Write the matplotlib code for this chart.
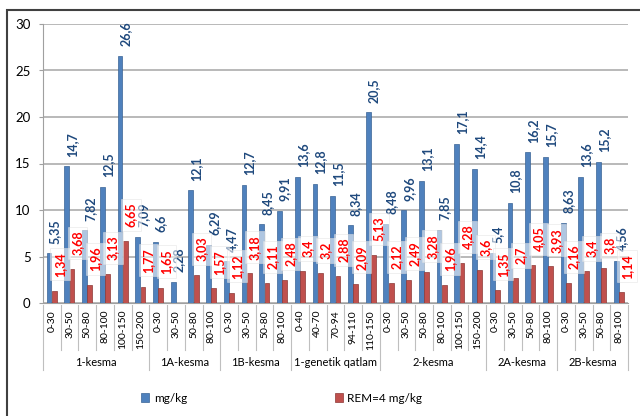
import numpy as np
import matplotlib
matplotlib.use("Agg")
import matplotlib.pyplot as plt
from matplotlib.patches import Rectangle
import matplotlib.transforms as mtransforms

plt.rcParams["font.family"] = ["Lato", "DejaVu Sans"]

# Ma'lumotlar
guruhlar = ["1-kesma", "1A-kesma", "1B-kesma", "1-genetik qatlam", "2-kesma", "2A-kesma", "2B-kesma"]
chuqurlik = [
    ["0-30", "30-50", "50-80", "80-100", "100-150", "150-200"],
    ["0-30", "30-50", "50-80", "80-100"],
    ["0-30", "30-50", "50-80", "80-100"],
    ["0-40", "40-70", "70-94", "94-110", "110-150"],
    ["0-30", "30-50", "50-80", "80-100", "100-150", "150-200"],
    ["0-30", "30-50", "50-80", "80-100"],
    ["0-30", "30-50", "50-80", "80-100"],
]
mg_kg = [5.35, 14.7, 7.82, 12.5, 26.6, 7.09,
         6.6, 2.28, 12.1, 6.29,
         4.47, 12.7, 8.45, 9.91,
         13.6, 12.8, 11.5, 8.34, 20.5,
         8.48, 9.96, 13.1, 7.85, 17.1, 14.4,
         5.4, 10.8, 16.2, 15.7,
         8.63, 13.6, 15.2, 4.56]
rem = [1.34, 3.68, 1.96, 3.13, 6.65, 1.77,
       1.65, np.nan, 3.03, 1.57,
       1.12, 3.18, 2.11, 2.48,
       3.4, 3.2, 2.88, 2.09, 5.13,
       2.12, 2.49, 3.28, 1.96, 4.28, 3.6,
       1.35, 2.7, 4.05, 3.93,
       2.16, 3.4, 3.8, 1.14]

teglar = [c for g in chuqurlik for c in g]
x = np.arange(len(teglar))

def fmt(v):
    return f"{v:g}".replace(".", ",")

fig = plt.figure(figsize=(6.4, 4.16), dpi=100)
ax = fig.add_axes([43 / 640, 113 / 416, 585 / 640, 279 / 416])

w = 0.27
ax.bar(x - 0.16, mg_kg, w, color="#4F81BD", edgecolor="#3A6496", linewidth=0.5, zorder=3, label="mg/kg")
ax.bar(x + 0.14, rem, w, color="#C0504D", edgecolor="#8C3836", linewidth=0.5, zorder=3, label="REM=4 mg/kg")

for xi, v in zip(x, mg_kg):
    ax.annotate(fmt(v), (xi - 0.16, v), xytext=(4, 7), textcoords="offset points",
                rotation=90, ha="center", va="bottom", fontsize=9, fontweight="bold",
                color="#1F497D", zorder=5)
for xi, v in zip(x, rem):
    if np.isnan(v):
        continue
    ax.annotate(fmt(v), (xi + 0.14, v), xytext=(4, 10), textcoords="offset points",
                rotation=90, ha="center", va="bottom", fontsize=9, fontweight="bold",
                color="#FF0000", zorder=6,
                bbox=dict(boxstyle="square,pad=0.3", fc="white", ec="#E0E0E0", lw=0.6, alpha=0.55))

ax.set_xlim(-0.5, len(teglar) - 0.5)
ax.set_ylim(0, 30)
ax.set_yticks(range(0, 31, 5))
ax.tick_params(axis="y", labelsize=9.5, length=3, color="#A0A0A0", pad=6)
ax.set_xticks([])
ax.grid(axis="y", color="#A6A6A6", linewidth=1.1, zorder=0)
for s in ["top", "right"]:
    ax.spines[s].set_visible(False)
ax.spines["left"].set_color("#A0A0A0")
ax.spines["bottom"].set_color("#A0A0A0")

# Ko'p darajali x o'qi
tr = mtransforms.blended_transform_factory(ax.transData, ax.transAxes)
for xi, t in zip(x, teglar):
    ax.text(xi, -0.025, t, transform=tr, rotation=90, ha="center", va="top", fontsize=7.5)
chegaralar = np.cumsum([0] + [len(g) for g in chuqurlik])
for i in range(len(teglar) + 1):
    pos = i - 0.5
    y2 = -0.24 if i in chegaralar else -0.168
    ax.plot([pos, pos], [-0.007, y2], transform=tr, color="#BFBFBF", lw=0.8, clip_on=False)
for g, a, b in zip(guruhlar, chegaralar[:-1], chegaralar[1:]):
    ax.text((a + b - 1) / 2, -0.215, g, transform=tr, ha="center", va="center", fontsize=8)

fig.legend(loc="center", bbox_to_anchor=(0.44, 0.043), ncol=2, frameon=False, fontsize=8.5,
           handlelength=0.7, handleheight=0.7, columnspacing=12.5, handletextpad=0.4)

# Tashqi ramka
fig.patches.append(Rectangle((7 / 640, -0.05), 1.1, 1.05 - 10 / 416, transform=fig.transFigure,
                             fill=False, edgecolor="#404040", linewidth=1.5))

fig.savefig("out.png", dpi=100)
